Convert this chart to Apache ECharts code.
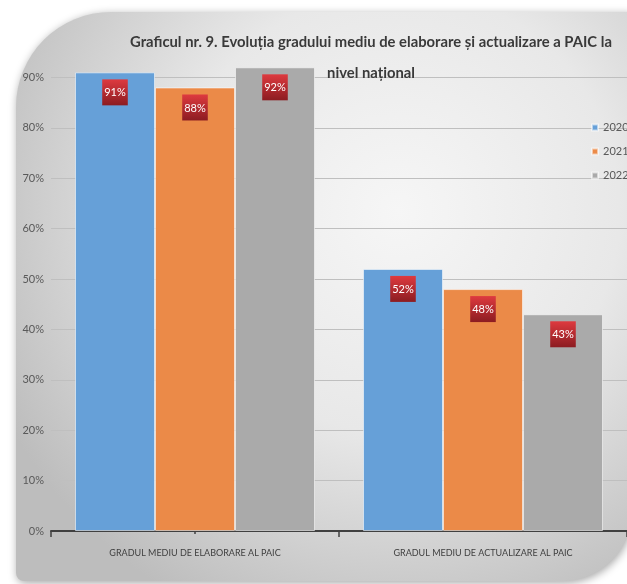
<!DOCTYPE html>
<html>
<head>
<meta charset="utf-8">
<script src="https://cdn.jsdelivr.net/npm/echarts@6/dist/echarts.min.js"></script>
<style>
  html, body { margin: 0; padding: 0; background: #ffffff; }
  #chart { width: 627px; height: 584px; }
</style>
</head>
<body>
<div id="chart"></div>
<script>
// Categories on the x axis
const categories = ['GRADUL MEDIU DE ELABORARE AL PAIC', 'GRADUL MEDIU DE ACTUALIZARE AL PAIC'];
// Yearly values, in percent
const years = ['2020', '2021', '2022'];
const values2020 = [91, 52];
const values2021 = [88, 48];
const values2022 = [92, 43];
const seriesValues = [values2020, values2021, values2022];
const barColors = ['#66a0d8', '#eb8a48', '#aaaaaa'];

const font = 'Lato, "Liberation Sans", sans-serif';
const axisDark = '#404040';

const chart = echarts.init(document.getElementById('chart'), null, { renderer: 'canvas' });

// Red gradient behind each value label
const labelBox = {
  type: 'linear', x: 0, y: 0, x2: 0, y2: 1,
  colorStops: [
    { offset: 0, color: '#de3a3f' },
    { offset: 1, color: '#8c1c21' }
  ]
};

const series = years.map((y, i) => ({
  name: y,
  type: 'bar',
  data: seriesValues[i],
  barWidth: 80,
  barGap: '0%',
  itemStyle: {
    color: barColors[i],
    borderColor: 'rgba(255,255,255,0.55)',
    borderWidth: 1
  },
  label: {
    show: true,
    position: 'insideTop',
    distance: 7,
    formatter: '{c}%',
    color: '#ffffff',
    fontFamily: font,
    fontSize: 11,
    backgroundColor: labelBox,
    padding: [8, 2, 7, 2]
  }
}));

// Extra tick-only axes sharing the grid: centre ticks crossing the axis line
const tickAxis = (inside) => ({
  type: 'category',
  data: categories,
  position: 'bottom',
  axisLine: { show: false },
  axisTick: { show: true, alignWithLabel: true, inside: inside, length: inside ? 6 : 3,
              lineStyle: { color: axisDark, width: 1.5 } },
  axisLabel: { show: false },
  splitLine: { show: false }
});

chart.setOption({
  animation: false,
  graphic: [{
    type: 'rect',
    z: -10,
    shape: { x: 16, y: 12, width: 616, height: 569, r: [95, 0, 70, 8] },
    style: {
      fill: {
        type: 'radial', x: 0.62, y: 0.35, r: 0.78,
        colorStops: [
          { offset: 0, color: '#f6f6f6' },
          { offset: 0.5, color: '#e8e8e8' },
          { offset: 1, color: '#bdbdbd' }
        ]
      },
      shadowBlur: 8,
      shadowColor: 'rgba(0,0,0,0.35)',
      shadowOffsetX: 1,
      shadowOffsetY: 2
    }
  }],
  title: {
    text: 'Graficul nr. 9. Evoluția gradului mediu de elaborare și actualizare a PAIC la\nnivel național',
    left: 366,
    top: 22,
    textAlign: 'center',
    textStyle: {
      fontFamily: font,
      fontWeight: 'bold',
      fontSize: 14.8,
      lineHeight: 31,
      color: '#3a3a3a'
    }
  },
  legend: {
    data: years,
    orient: 'vertical',
    left: 586,
    top: 117,
    itemWidth: 6,
    itemHeight: 6,
    itemGap: 13,
    icon: 'rect',
    textStyle: { fontFamily: font, fontSize: 11, color: '#595959' }
  },
  grid: { left: 51, top: 27, width: 584, height: 504 },
  xAxis: [{
    type: 'category',
    data: categories,
    position: 'bottom',
    axisLine: { lineStyle: { color: axisDark, width: 2 } },
    axisTick: { show: true, length: 6, lineStyle: { color: axisDark, width: 1.5 } },
    axisLabel: { interval: 0, fontFamily: font, fontSize: 9, color: axisDark, margin: 18 }
  }, tickAxis(true), tickAxis(false)],
  yAxis: {
    type: 'value',
    min: 0,
    max: 100,
    interval: 10,
    axisLine: { show: false },
    axisTick: { show: false },
    axisLabel: {
      formatter: '{value}%',
      showMaxLabel: false,
      fontFamily: font,
      fontSize: 11,
      color: '#595959',
      margin: 7
    },
    splitLine: { showMaxLine: false, lineStyle: { color: '#bfbfbf', width: 1 } }
  },
  series: series
});
</script>
</body>
</html>
